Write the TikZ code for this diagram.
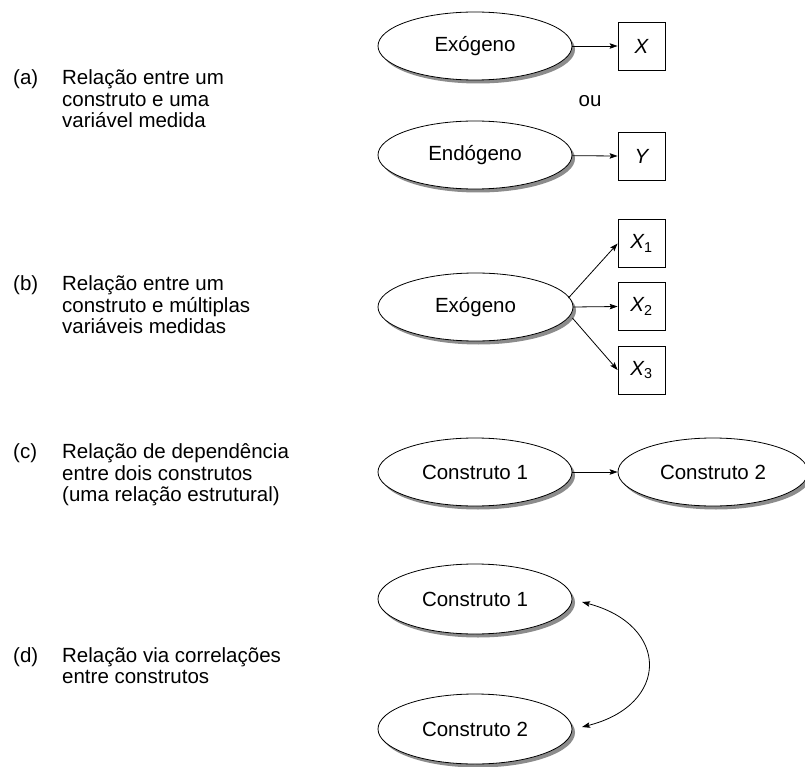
\documentclass[tikz,border=0pt]{standalone}
\usepackage{fontspec}
\setmainfont{Liberation Sans}
\usetikzlibrary{shapes.geometric,shadows,arrows.meta}
\begin{document}
\begin{tikzpicture}[x=1pt,y=1pt,
  font=\fontsize{20.5}{21.3}\selectfont,
  ell/.style={ellipse,draw,line width=0.8pt,fill=white,minimum width=194,minimum height=68,inner sep=0,
    drop shadow={shadow xshift=3pt,shadow yshift=-3.5pt,fill=black!45,opacity=1}},
  bx/.style={rectangle,draw,line width=0.8pt,minimum width=47,minimum height=48,inner sep=0},
  arr/.style={line width=0.8pt,-{Stealth[length=8pt,width=5.5pt,inset=1.5pt]}},
  darr/.style={line width=0.8pt,{Stealth[length=8pt,width=5.5pt,inset=1.5pt]}-{Stealth[length=8pt,width=5.5pt,inset=1.5pt]}},
  lab/.style={anchor=west,inner sep=0}]
\useasboundingbox (0,0) rectangle (805,-767);
% left labels
\node[lab] (la) at (13,-102) {\begin{tabular}{@{}p{49pt}@{}l@{}}(a)&Relação entre um\\&construto e uma\\&variável medida\end{tabular}};
\node[lab] (lb) at (13,-308) {\begin{tabular}{@{}p{49pt}@{}l@{}}(b)&Relação entre um\\&construto e múltiplas\\&variáveis medidas\end{tabular}};
\node[lab] (lc) at (13,-476) {\begin{tabular}{@{}p{49pt}@{}l@{}}(c)&Relação de dependência\\&entre dois construtos\\&(uma relação estrutural)\end{tabular}};
\node[lab] (ld) at (13,-669) {\begin{tabular}{@{}p{49pt}@{}l@{}}(d)&Relação via correlações\\&entre construtos\end{tabular}};
% (a)
\node[ell] (exo) at (475,-46) {Exógeno};
\node[bx] (bxX) at (641.5,-46) {\itshape X};
\node (ou) at (590,-101) {ou};
\node[ell] (endo) at (475,-155) {Endógeno};
\node[bx] (bxY) at (641.5,-156) {\itshape Y};
\draw[arr] (exo) -- (bxX);
\draw[arr] (endo) -- (bxY.west);
% (b)
\node[ell,minimum width=195] (exo2) at (475.5,-307) {Exógeno};
\node[bx] (x1) at (641.5,-243.5) {{\itshape X}\textsubscript{1}};
\node[bx] (x2) at (641.5,-306.5) {{\itshape X}\textsubscript{2}};
\node[bx] (x3) at (641.5,-370) {{\itshape X}\textsubscript{3}};
\draw[arr] ([shift={(-5,9)}]exo2.east) -- (x1.west);
\draw[arr] (exo2.east) -- (x2.west);
\draw[arr] ([shift={(-1,-11)}]exo2.east) -- (x3.west);
% (c)
\node[ell] (c1) at (475,-472) {Construto 1};
\node[ell,minimum width=190] (c2) at (713,-472) {Construto 2};
\draw[arr] (c1) -- (c2);
% (d)
\node[ell,minimum height=70] (d1) at (475,-599) {Construto 1};
\node[ell,minimum height=70] (d2) at (475,-729) {Construto 2};
\coordinate (p1) at (582,-602);
\coordinate (p2) at (582,-727);
\draw[darr] (p1) .. controls (670,-625) and (670,-705) .. (p2);
\end{tikzpicture}
\end{document}
